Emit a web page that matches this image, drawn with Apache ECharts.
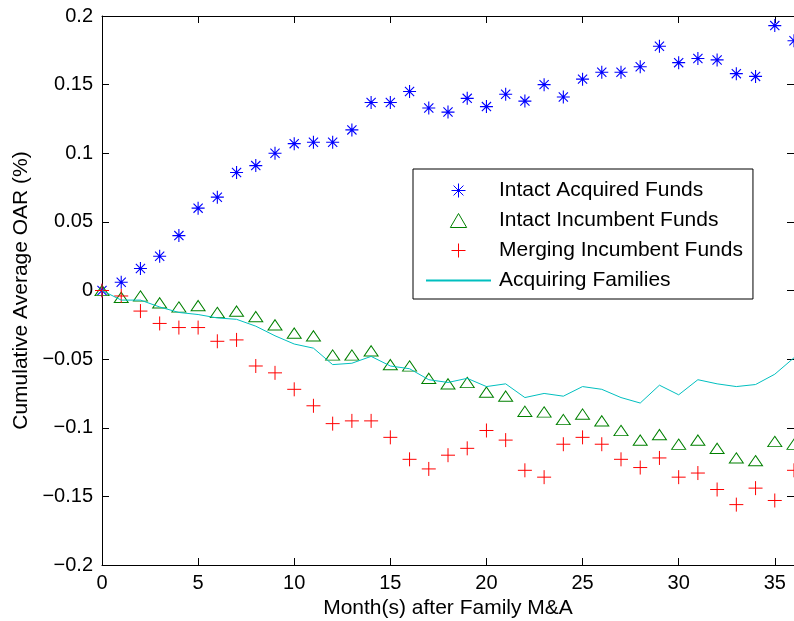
<!DOCTYPE html>
<html>
<head>
<meta charset="utf-8">
<script src="https://cdn.jsdelivr.net/npm/echarts@6/dist/echarts.min.js"></script>
<style>
html,body{margin:0;padding:0;background:#fff;}
#chart{width:794px;height:621px;}
</style>
</head>
<body>
<div id="chart"></div>
<script>
var months = [0,1,2,3,4,5,6,7,8,9,10,11,12,13,14,15,16,17,18,19,20,21,22,23,24,25,26,27,28,29,30,31,32,33,34,35,36];
var intactAcquired = [0,0.006,0.016,0.025,0.040,0.060,0.068,0.086,0.091,0.100,0.107,0.108,0.108,0.117,0.137,0.137,0.145,0.133,0.130,0.140,0.134,0.143,0.138,0.150,0.141,0.154,0.159,0.159,0.163,0.178,0.166,0.169,0.168,0.158,0.156,0.193,0.182];
var intactIncumbent = [0,-0.005,-0.004,-0.009,-0.012,-0.011,-0.016,-0.015,-0.019,-0.025,-0.031,-0.033,-0.047,-0.047,-0.044,-0.054,-0.055,-0.064,-0.068,-0.067,-0.074,-0.077,-0.088,-0.0885,-0.094,-0.090,-0.095,-0.102,-0.109,-0.105,-0.112,-0.109,-0.115,-0.122,-0.124,-0.110,-0.112];
var mergingIncumbent = [0,-0.004,-0.015,-0.024,-0.027,-0.027,-0.037,-0.036,-0.055,-0.060,-0.072,-0.084,-0.097,-0.095,-0.095,-0.107,-0.123,-0.130,-0.120,-0.115,-0.102,-0.109,-0.131,-0.136,-0.112,-0.107,-0.112,-0.123,-0.129,-0.122,-0.136,-0.133,-0.145,-0.156,-0.144,-0.153,-0.131];
var acquiringFamilies = [0,-0.007,-0.007,-0.012,-0.016,-0.0175,-0.020,-0.021,-0.026,-0.033,-0.039,-0.042,-0.054,-0.053,-0.048,-0.055,-0.057,-0.065,-0.067,-0.064,-0.070,-0.068,-0.078,-0.075,-0.077,-0.070,-0.072,-0.078,-0.082,-0.069,-0.076,-0.065,-0.068,-0.070,-0.0685,-0.061,-0.049];
var seriesNames = ['Intact Acquired Funds','Intact Incumbent Funds','Merging Incumbent Funds','Acquiring Families'];
var xTickValues = [0,5,10,15,20,25,30,35];
var xTickLabels = ['0','5','10','15','20','25','30','35'];
var yTickValues = [-0.2,-0.15,-0.1,-0.05,0,0.05,0.1,0.15,0.2];
var yTickLabels = ['\u22120.2','\u22120.15','\u22120.1','\u22120.05','0','0.05','0.1','0.15','0.2'];
var xTitle = 'Month(s) after Family M&A';
var yTitle = 'Cumulative Average OAR (%)';

function pairs(ys){ return months.map(function(m,i){ return [m, ys[i]]; }); }
function xLab(v){ for (var i=0;i<xTickValues.length;i++){ if (Math.abs(xTickValues[i]-v)<1e-6) return xTickLabels[i]; } return ''; }
function yLab(v){ for (var i=0;i<yTickValues.length;i++){ if (Math.abs(yTickValues[i]-v)<1e-6) return yTickLabels[i]; } return ''; }

var FONT = 'Liberation Sans, Arial, Helvetica, sans-serif';
var axisCommon = {
  axisLine: {show: true, onZero: false, lineStyle: {color: '#000', width: 1}},
  axisTick: {show: true, inside: true, length: 7, lineStyle: {color: '#000', width: 1}},
  splitLine: {show: false}
};
var STAR = 'path://M0,-1L0,1M-1,0L1,0M-0.7071,-0.7071L0.7071,0.7071M-0.7071,0.7071L0.7071,-0.7071';
var PLUS = 'path://M0,-1L0,1M-1,0L1,0';
var TRI = 'path://M7,0L14,12L0,12Z';

var chart = echarts.init(document.getElementById('chart'), null, {renderer: 'canvas'});
chart.setOption({
  animation: false,
  backgroundColor: '#fff',
  grid: {left: 102, top: 16, right: 0, bottom: 56, containLabel: false, outerBoundsMode: 'none'},
  xAxis: [
    Object.assign({type: 'value', position: 'bottom', min: 0, max: 36, interval: 5,
      axisLabel: {show: true, color: '#000', fontFamily: FONT, fontSize: 20, margin: 8, showMaxLabel: false, formatter: xLab},
      name: xTitle, nameLocation: 'middle', nameGap: 30,
      nameTextStyle: {color: '#000', fontFamily: FONT, fontSize: 21}}, axisCommon),
    Object.assign({type: 'value', position: 'top', min: 0, max: 36, interval: 5,
      axisLabel: {show: false}}, axisCommon)
  ],
  yAxis: [
    Object.assign({type: 'value', position: 'left', min: -0.2, max: 0.2, interval: 0.05,
      axisLabel: {show: true, color: '#000', fontFamily: FONT, fontSize: 20, margin: 9, formatter: yLab},
      name: yTitle, nameLocation: 'middle', nameGap: 66, nameRotate: 90,
      nameTextStyle: {color: '#000', fontFamily: FONT, fontSize: 21}}, axisCommon),
    Object.assign({type: 'value', position: 'right', min: -0.2, max: 0.2, interval: 0.05,
      axisLabel: {show: false}}, axisCommon)
  ],
  legend: {
    show: true, orient: 'vertical', left: 413, top: 169,
    backgroundColor: '#fff', borderColor: '#000', borderWidth: 1, borderRadius: 0,
    padding: [11, 10, 8, 12], itemGap: 9, itemWidth: 65, itemHeight: 14,
    symbolKeepAspect: true,
    textStyle: {color: '#000', fontFamily: FONT, fontSize: 21, lineHeight: 20, padding: [0,0,0,3]},
    itemStyle: {borderWidth: 1},
    data: [
      {name: seriesNames[0]},
      {name: seriesNames[1]},
      {name: seriesNames[2]},
      {name: seriesNames[3], itemStyle: {color: 'transparent', borderColor: 'transparent', borderWidth: 0, opacity: 0}}
    ]
  },
  series: [
    {name: seriesNames[0], type: 'scatter', data: pairs(intactAcquired), symbol: STAR, symbolSize: 13, symbolKeepAspect: true,
     itemStyle: {color: 'transparent', borderColor: '#0000ff', borderWidth: 1.1, opacity: 1}, z: 3},
    {name: seriesNames[1], type: 'scatter', data: pairs(intactIncumbent), symbol: TRI, symbolSize: [14, 12], symbolKeepAspect: true,
     itemStyle: {color: 'transparent', borderColor: '#008000', borderWidth: 1, opacity: 1}, z: 3},
    {name: seriesNames[2], type: 'scatter', data: pairs(mergingIncumbent), symbol: PLUS, symbolSize: 14, symbolKeepAspect: true,
     itemStyle: {color: 'transparent', borderColor: '#ff0000', borderWidth: 1, opacity: 1}, z: 3},
    {name: seriesNames[3], type: 'line', data: pairs(acquiringFamilies), symbol: 'none', showSymbol: false,
     lineStyle: {color: '#00bfbf', width: 1}, itemStyle: {color: '#00bfbf'}, z: 4}
  ]
});
</script>
</body>
</html>
